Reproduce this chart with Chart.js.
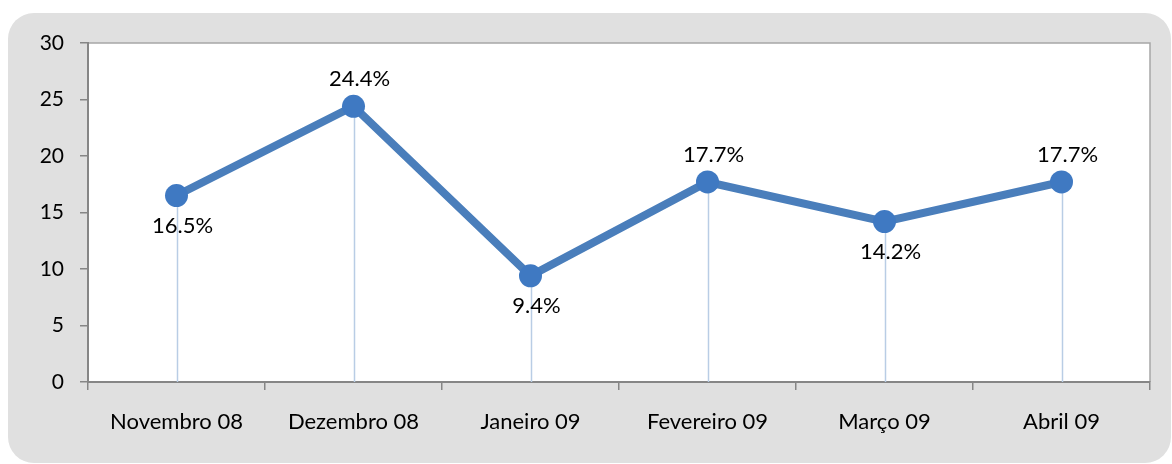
<!DOCTYPE html>
<html>
<head>
<meta charset="utf-8">
<script src="https://cdn.jsdelivr.net/npm/chart.js@4"></script>
<style>
  html, body { margin: 0; padding: 0; background: #ffffff; }
  #wrap { width: 1172px; height: 464px; }
</style>
</head>
<body>
<div id="wrap"><canvas id="chart" width="1172" height="464"></canvas></div>
<script>
// Data
const months = ["Novembro 08", "Dezembro 08", "Janeiro 09", "Fevereiro 09", "Março 09", "Abril 09"];
const rates = [16.5, 24.4, 9.4, 17.7, 14.2, 17.7];
const labelSide = ["below", "above", "below", "above", "below", "above"];

const lineColor = "#4a7ebb";
const dropColor = "#b9cde5";
const axisColor = "#868686";
const fontFamily = "Lato, 'Noto Sans', sans-serif";

// grey card, white plot area, drop lines and value labels
const decor = {
  id: "decor",
  beforeDraw(chart) {
    const ctx = chart.ctx;
    const a = chart.chartArea;
    ctx.save();
    ctx.fillStyle = "#e0e0e0";
    ctx.beginPath();
    ctx.roundRect(8, 13, 1163, 450, 26);
    ctx.fill();
    ctx.fillStyle = "#ffffff";
    ctx.fillRect(a.left, a.top, a.right - a.left, a.bottom - a.top);
    ctx.strokeStyle = "#a6a6a6";
    ctx.lineWidth = 1.5;
    ctx.beginPath();
    ctx.moveTo(a.left, a.top);
    ctx.lineTo(a.right, a.top);
    ctx.lineTo(a.right, a.bottom);
    ctx.stroke();
    ctx.restore();
  },
  beforeDatasetsDraw(chart) {
    const ctx = chart.ctx;
    const meta = chart.getDatasetMeta(0);
    const bottom = chart.scales.y.getPixelForValue(0);
    ctx.save();
    ctx.strokeStyle = dropColor;
    ctx.lineWidth = 1.5;
    meta.data.forEach(p => {
      ctx.beginPath();
      ctx.moveTo(Math.round(p.x) + 0.5, p.y);
      ctx.lineTo(Math.round(p.x) + 0.5, bottom);
      ctx.stroke();
    });
    ctx.restore();
  },
  afterDatasetsDraw(chart) {
    const ctx = chart.ctx;
    const meta = chart.getDatasetMeta(0);
    ctx.save();
    ctx.fillStyle = "#000000";
    ctx.font = "22px " + fontFamily;
    ctx.textAlign = "center";
    ctx.textBaseline = "middle";
    meta.data.forEach((p, i) => {
      const dy = labelSide[i] === "above" ? -27 : 30;
      ctx.fillText(rates[i].toFixed(1) + "%", p.x + 6, p.y + dy);
    });
    ctx.restore();
  }
};

new Chart(document.getElementById("chart"), {
  type: "line",
  data: {
    labels: months,
    datasets: [{
      data: rates,
      borderColor: lineColor,
      borderWidth: 8,
      tension: 0,
      pointRadius: 11.5,
      pointHoverRadius: 11.5,
      pointBackgroundColor: "#3f79c2",
      pointBorderColor: "#3f79c2",
      pointBorderWidth: 0
    }]
  },
  options: {
    responsive: false,
    animation: false,
    events: [],
    layout: { padding: { left: 0, top: 43, right: 22, bottom: 0 } },
    plugins: { legend: { display: false }, tooltip: { enabled: false } },
    scales: {
      x: {
        offset: true,
        grid: {
          offset: true,
          drawOnChartArea: false,
          drawTicks: true,
          tickLength: 8,
          color: axisColor,
          lineWidth: 1.5
        },
        border: { display: true, color: axisColor, width: 2 },
        ticks: {
          color: "#000000",
          font: { family: fontFamily, size: 22 },
          padding: 19,
          maxRotation: 0
        },
        afterFit(scale) { scale.height = 82; }
      },
      y: {
        min: 0,
        max: 30,
        ticks: {
          stepSize: 5,
          color: "#000000",
          font: { family: fontFamily, size: 21 },
          padding: 16
        },
        grid: {
          drawOnChartArea: false,
          drawTicks: true,
          tickLength: 8,
          color: axisColor,
          lineWidth: 1.5
        },
        border: { display: true, color: axisColor, width: 2 },
        afterFit(scale) { scale.width = 88; }
      }
    }
  },
  plugins: [decor]
});
</script>
</body>
</html>
